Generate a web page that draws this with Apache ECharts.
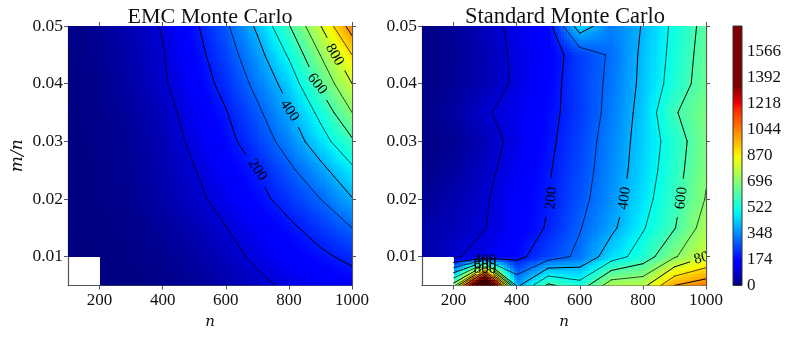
<!DOCTYPE html>
<html>
<head>
<meta charset="utf-8">
<style>
    html, body { margin: 0; padding: 0; background: #fff; }
    #chart { width: 789px; height: 337px; }
</style>
<script src="https://cdn.jsdelivr.net/npm/echarts@6/dist/echarts.min.js"></script>
</head>
<body>
<div id="chart"></div>
<script>
// grid of the two runs
var nValues = [100, 200, 300, 400, 500, 600, 700, 800, 900, 1000];
var ratioValues = [0.005, 0.01, 0.015, 0.02, 0.025, 0.03, 0.035, 0.04, 0.045, 0.05];

var emcValues = [
    [null, 2, 5, 12, 25, 48, 80, 115, 135, 155],
    [1, 3, 8, 20, 40, 72, 116, 150, 183, 222],
    [2, 5, 13, 32, 60, 98, 140, 183, 237, 300],
    [2, 8, 20, 50, 82, 127, 175, 233, 300, 395],
    [2, 10, 25, 55, 97, 149, 203, 281, 372, 480],
    [3, 12, 30, 60, 117, 174, 247, 340, 458, 585],
    [3, 15, 36, 72, 133, 195, 283, 388, 525, 700],
    [4, 18, 45, 90, 151, 227, 325, 440, 620, 800],
    [4, 21, 52, 95, 167, 255, 366, 511, 702, 900],
    [5, 25, 60, 105, 185, 285, 416, 593, 796, 1050]
];
var standardValues = [
    [null, 645, 1740, 375, 620, 540, 760, 770, 1000, 1060],
    [40, 90, 130, 175, 255, 320, 453, 545, 690, 800],
    [50, 65, 98, 150, 208, 295, 380, 492, 595, 747],
    [20, 55, 92, 150, 198, 274, 357, 464, 575, 705],
    [10, 35, 80, 136, 192, 262, 347, 447, 559, 690],
    [5, 22, 65, 124, 182, 253, 340, 439, 546, 680],
    [5, 40, 92, 128, 175, 241, 328, 432, 590, 680],
    [5, 25, 60, 113, 165, 248, 319, 421, 541, 652],
    [5, 25, 55, 117, 153, 247, 312, 417, 529, 645],
    [5, 25, 75, 118, 166, 452, 334, 405, 522, 633]
];

var contourLevels = [100, 200, 300, 400, 500, 600, 700, 800, 900, 1000, 1100, 1200, 1300, 1400, 1500, 1600, 1700];

// inline contour labels
var emcLabelLevels = [200, 400, 600, 800];
var emcLabelN = [700, 802, 889, 945];
var emcLabelRatio = [0.02505, 0.0353, 0.03995, 0.045];
var emcLabelAngles = [-56, -56, -52, -60];

var standardLabelLevels = [200, 400, 600, 400, 600, 800, 800];
var standardLabelN = [510, 742, 922, 300, 300, 300, 997];
var standardLabelRatio = [0.02014, 0.02014, 0.02014, 0.00933, 0.00858, 0.00789, 0.0099];
var standardLabelAngles = [85, 82, 83, 0, 0, 0, 15];
var standardLabelGaps = [20, 20, 20, 11, 11, 11, 16];

var nTicks = [200, 400, 600, 800, 1000];
var ratioTicks = [0.01, 0.02, 0.03, 0.04, 0.05];
var colorbarTicks = [0, 174, 348, 522, 696, 870, 1044, 1218, 1392, 1566];
var colorbarMax = 1740;
var jetTop = 1340; // colours saturate to dark red above this

var FONT = '"Liberation Serif", serif';
var MATH_FONT = '"DejaVu Serif", serif';

// matplotlib jet, [position, r, g, b]
var jetStops = [
    [0, 0, 0, 127], [0.11, 0, 0, 255], [0.125, 0, 0, 255], [0.34, 0, 220, 255], [0.375, 0, 255, 240],
    [0.64, 245, 255, 10], [0.66, 255, 235, 0], [0.89, 255, 30, 0], [0.91, 240, 0, 0], [1, 127, 0, 0]
];

function jetColor(value) {
    var t = Math.min(1, Math.max(0, value / jetTop));
    for (var i = 1; i < jetStops.length; i++) {
        if (t <= jetStops[i][0]) {
            var a = jetStops[i - 1], b = jetStops[i];
            var k = (t - a[0]) / (b[0] - a[0]);
            return 'rgb(' + Math.round(a[1] + (b[1] - a[1]) * k) + ',' +
                Math.round(a[2] + (b[2] - a[2]) * k) + ',' +
                Math.round(a[3] + (b[3] - a[3]) * k) + ')';
        }
    }
    return 'rgb(127,0,0)';
}

// one data item per grid cell, the missing corner has no cell
function cellList(values) {
    var cells = [];
    for (var r = 0; r < ratioValues.length - 1; r++) {
        for (var c = 0; c < nValues.length - 1; c++) {
            if (values[r][c] !== null && values[r][c + 1] !== null &&
                values[r + 1][c] !== null && values[r + 1][c + 1] !== null) {
                cells.push([nValues[c], ratioValues[r], c, r]);
            }
        }
    }
    return cells;
}

// shaded field: each cell is blended from its four corners at draw time
function fieldRenderer(values) {
    var STEPS = 10;
    return function (params, api) {
        var c = api.value(2), r = api.value(3);
        var v00 = values[r][c], v10 = values[r][c + 1], v01 = values[r + 1][c], v11 = values[r + 1][c + 1];
        var p0 = api.coord([nValues[c], ratioValues[r]]);
        var p1 = api.coord([nValues[c + 1], ratioValues[r + 1]]);
        var children = [];
        for (var i = 0; i < STEPS; i++) {
            var x0 = Math.round(p0[0] + (p1[0] - p0[0]) * i / STEPS);
            var x1 = Math.round(p0[0] + (p1[0] - p0[0]) * (i + 1) / STEPS);
            for (var j = 0; j < STEPS; j++) {
                var y0 = Math.round(p0[1] + (p1[1] - p0[1]) * j / STEPS);
                var y1 = Math.round(p0[1] + (p1[1] - p0[1]) * (j + 1) / STEPS);
                var u = (i + 0.5) / STEPS, w = (j + 0.5) / STEPS;
                var v = v00 * (1 - u) * (1 - w) + v10 * u * (1 - w) + v01 * (1 - u) * w + v11 * u * w;
                children.push({
                    type: 'rect',
                    shape: {x: x0, y: y1, width: x1 - x0, height: y0 - y1},
                    style: {fill: jetColor(v)},
                    silent: true
                });
            }
        }
        return {type: 'group', children: children};
    };
}

// crossings of one level on the four edges of a cell, in data units
function cellCrossings(values, c, r, level) {
    var corners = [
        [c, r, values[r][c]], [c + 1, r, values[r][c + 1]],
        [c + 1, r + 1, values[r + 1][c + 1]], [c, r + 1, values[r + 1][c]]
    ];
    var points = [];
    for (var i = 0; i < 4; i++) {
        var a = corners[i], b = corners[(i + 1) % 4];
        if ((a[2] < level) !== (b[2] < level)) {
            var k = (level - a[2]) / (b[2] - a[2]);
            var ca = nValues[a[0]] + (nValues[b[0]] - nValues[a[0]]) * k;
            var ra = ratioValues[a[1]] + (ratioValues[b[1]] - ratioValues[a[1]]) * k;
            points.push([ca, ra]);
        }
    }
    return points;
}

// remove the part of a segment that runs under a label
function cutSegment(a, b, gaps) {
    var pieces = [[a, b]];
    gaps.forEach(function (gap) {
        var next = [];
        pieces.forEach(function (piece) {
            var p = piece[0], q = piece[1];
            var dx = q[0] - p[0], dy = q[1] - p[1];
            var fx = p[0] - gap.x, fy = p[1] - gap.y;
            var A = dx * dx + dy * dy, B = 2 * (fx * dx + fy * dy), C = fx * fx + fy * fy - gap.r * gap.r;
            var D = B * B - 4 * A * C;
            if (A === 0 || D <= 0) {
                next.push(piece);
                return;
            }
            var t0 = (-B - Math.sqrt(D)) / (2 * A), t1 = (-B + Math.sqrt(D)) / (2 * A);
            if (t1 <= 0 || t0 >= 1) {
                next.push(piece);
                return;
            }
            if (t0 > 0) next.push([p, [p[0] + dx * t0, p[1] + dy * t0]]);
            if (t1 < 1) next.push([[p[0] + dx * t1, p[1] + dy * t1], q]);
        });
        pieces = next;
    });
    return pieces;
}

function contourRenderer(values, labelLevels, labelN, labelRatio, labelAngles, labelGaps) {
    return function (params, api) {
        var level = contourLevels[params.dataIndex];
        var children = [];
        var gaps = [];
        labelLevels.forEach(function (l, i) {
            if (l !== level) return;
            var pos = api.coord([labelN[i], labelRatio[i]]);
            gaps.push({x: pos[0], y: pos[1], r: labelGaps ? labelGaps[i] : 19});
            children.push({
                type: 'text',
                x: pos[0],
                y: pos[1],
                rotation: labelAngles[i] * Math.PI / 180,
                silent: true,
                z2: 5,
                style: {text: String(l), font: '15px ' + FONT, fill: '#000', align: 'center', verticalAlign: 'middle'}
            });
        });
        var strong = level % 200 === 0;
        for (var r = 0; r < ratioValues.length - 1; r++) {
            for (var c = 0; c < nValues.length - 1; c++) {
                if (values[r][c] === null || values[r][c + 1] === null ||
                    values[r + 1][c] === null || values[r + 1][c + 1] === null) continue;
                var pts = cellCrossings(values, c, r, level);
                for (var i = 0; i + 1 < pts.length; i += 2) {
                    cutSegment(api.coord(pts[i]), api.coord(pts[i + 1]), gaps).forEach(function (piece) {
                        children.push({
                            type: 'line',
                            silent: true,
                            shape: {x1: piece[0][0], y1: piece[0][1], x2: piece[1][0], y2: piece[1][1]},
                            style: {stroke: '#000', lineWidth: strong ? 1 : 0.7, lineCap: 'round'}
                        });
                    });
                }
            }
        }
        return {type: 'group', children: children};
    };
}

function colorbarRenderer(params, api) {
    var bottom = api.coord([0, 0]);
    var top = api.coord([1, colorbarMax]);
    var colorStops = jetStops.map(function (s) {
        return {offset: s[0] * jetTop / colorbarMax, color: 'rgb(' + s[1] + ',' + s[2] + ',' + s[3] + ')'};
    });
    colorStops.push({offset: 1, color: 'rgb(127,0,0)'});
    return {
        type: 'rect',
        shape: {x: bottom[0], y: top[1], width: top[0] - bottom[0], height: bottom[1] - top[1]},
        style: {fill: new echarts.graphic.LinearGradient(0, 1, 0, 0, colorStops), stroke: '#333', lineWidth: 1}
    };
}

var frameLine = {show: true, onZero: false, lineStyle: {color: '#555', width: 1.2}};

function plainNumber(v) {
    return String(v);
}

function frameX(gridIndex, position, withLabels, name) {
    return {
        type: 'value',
        gridIndex: gridIndex,
        position: position,
        min: 100,
        max: 1000,
        name: name || '',
        nameLocation: 'middle',
        nameGap: 28,
        nameTextStyle: {fontFamily: MATH_FONT, fontStyle: 'italic', fontSize: 15, color: '#111'},
        axisLine: frameLine,
        splitLine: {show: false},
        axisTick: {show: true, length: 4, customValues: nTicks, lineStyle: {color: '#555'}},
        axisLabel: {
            show: withLabels,
            customValues: nTicks,
            margin: 7,
            fontFamily: FONT,
            fontSize: 17,
            color: '#111',
            formatter: plainNumber
        }
    };
}

function frameY(gridIndex, position, withLabels, name) {
    return {
        type: 'value',
        gridIndex: gridIndex,
        position: position,
        min: 0.005,
        max: 0.05,
        name: name || '',
        nameLocation: 'middle',
        nameRotate: 90,
        nameGap: 42,
        nameTextStyle: {fontFamily: MATH_FONT, fontStyle: 'italic', fontSize: 17, color: '#111'},
        axisLine: frameLine,
        splitLine: {show: false},
        axisTick: {show: true, length: 4, customValues: ratioTicks, lineStyle: {color: '#555'}},
        axisLabel: {
            show: withLabels,
            customValues: ratioTicks,
            margin: 5,
            fontFamily: FONT,
            fontSize: 17.5,
            color: '#111',
            formatter: function (v) { return v.toFixed(2); }
        }
    };
}

var option = {
    animation: false,
    backgroundColor: '#fff',
    title: [
        {text: 'EMC Monte Carlo', left: 205, top: 1, textAlign: 'center',
            textStyle: {fontFamily: FONT, fontSize: 22, fontWeight: 'normal', color: '#111'}},
        {text: 'Standard Monte Carlo', left: 560, top: 1, textAlign: 'center',
            textStyle: {fontFamily: FONT, fontSize: 22.5, fontWeight: 'normal', color: '#111'}}
    ],
    grid: [
        {left: 68, top: 26, width: 284, height: 259.5},
        {left: 422, top: 26, width: 284, height: 259.5},
        {left: 733, top: 26, width: 9, height: 259.5}
    ],
    xAxis: [
        frameX(0, 'bottom', true, 'n'),
        frameX(0, 'top', false),
        frameX(1, 'bottom', true, 'n'),
        frameX(1, 'top', false),
        {type: 'value', gridIndex: 2, min: 0, max: 1, show: false}
    ],
    yAxis: [
        frameY(0, 'left', true, 'm/n'),
        frameY(0, 'right', false),
        frameY(1, 'left', true),
        frameY(1, 'right', false),
        {
            type: 'value',
            gridIndex: 2,
            position: 'right',
            min: 0,
            max: colorbarMax,
            axisLine: {show: false},
            splitLine: {show: false},
            axisTick: {show: true, length: 4, customValues: colorbarTicks, lineStyle: {color: '#333'}},
            axisLabel: {show: true, customValues: colorbarTicks, margin: 5, fontFamily: FONT, fontSize: 17, color: '#111', formatter: plainNumber}
        }
    ],
    series: [
        {type: 'custom', xAxisIndex: 0, yAxisIndex: 0, clip: true, silent: true, z: 1,
            data: cellList(emcValues), renderItem: fieldRenderer(emcValues)},
        {type: 'custom', xAxisIndex: 0, yAxisIndex: 0, clip: true, silent: true, z: 2, data: contourLevels,
            renderItem: contourRenderer(emcValues, emcLabelLevels, emcLabelN, emcLabelRatio, emcLabelAngles)},
        {type: 'custom', xAxisIndex: 2, yAxisIndex: 2, clip: true, silent: true, z: 1,
            data: cellList(standardValues), renderItem: fieldRenderer(standardValues)},
        {type: 'custom', xAxisIndex: 2, yAxisIndex: 2, clip: true, silent: true, z: 2, data: contourLevels,
            renderItem: contourRenderer(standardValues, standardLabelLevels, standardLabelN, standardLabelRatio, standardLabelAngles, standardLabelGaps)},
        {type: 'custom', xAxisIndex: 4, yAxisIndex: 4, silent: true, data: [[0, 0]], renderItem: colorbarRenderer}
    ]
};

var myChart = echarts.init(document.getElementById('chart'), null, {renderer: 'canvas'});
myChart.setOption(option);
</script>
</body>
</html>
